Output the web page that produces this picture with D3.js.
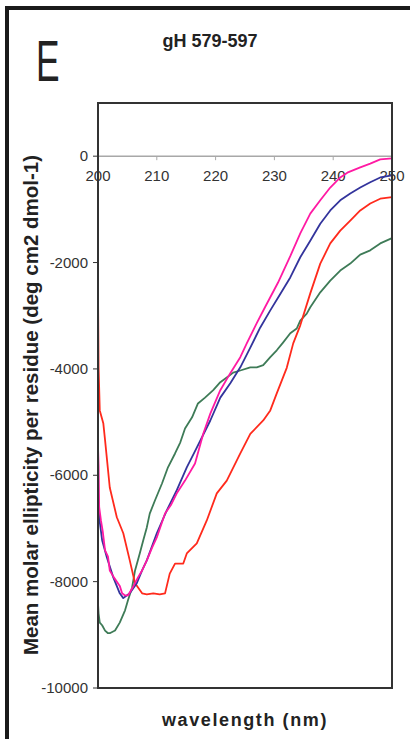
<!DOCTYPE html>
<meta charset='utf-8'>
<style>
    body { margin: 0; background: #fff; }
    text { font-family: Arial, "Liberation Sans", sans-serif; }
    .tick-label { font-size: 15px; fill: #333; }
    .series { fill: none; stroke-width: 1.8; stroke-linejoin: round; }
</style>

<svg width="410" height="739"></svg>
<script src="https://d3js.org/d3.v7.min.js"></script>

<script>

// tick labels
var xTicks = [200, 210, 220, 230, 240, 250];
var yTicks = [0, -2000, -4000, -6000, -8000, -10000];

// series: [wavelength nm, mean molar ellipticity]
var red = [
    [200.0, -2560], [200.1, -3970], [200.3, -4780], [200.9, -5020], [201.2, -5340],
    [202.0, -6230], [203.2, -6790], [204.3, -7090], [205.4, -7600], [206.3, -8030],
    [207.5, -8220], [208.3, -8240], [209.4, -8220], [210.5, -8240], [211.4, -8220],
    [212.2, -7850], [213.1, -7660], [214.5, -7660], [215.1, -7470], [216.8, -7280],
    [218.5, -6850], [220.2, -6340], [221.9, -6100], [224.2, -5590], [225.9, -5220],
    [228.1, -4970], [229.3, -4780], [230.4, -4460], [232.1, -3980], [233.2, -3520],
    [234.4, -3180], [236.1, -2580], [237.8, -2020], [239.5, -1640], [241.2, -1400],
    [242.9, -1210], [244.6, -1020], [246.3, -890], [248.0, -800], [250.0, -770]
];
var blue = [
    [200.0, -6420], [200.2, -6790], [200.7, -7220], [201.5, -7540], [202.6, -7920],
    [203.7, -8220], [204.3, -8310], [205.4, -8220], [206.6, -8030], [207.5, -7790],
    [208.3, -7600], [210.0, -7090], [211.7, -6660], [213.4, -6280], [215.1, -5850],
    [216.8, -5480], [219.1, -4970], [220.8, -4540], [222.5, -4270], [224.2, -3970],
    [225.9, -3600], [227.6, -3220], [229.3, -2900], [231.0, -2590], [232.7, -2280],
    [234.4, -1900], [236.1, -1590], [237.8, -1270], [239.5, -1020], [241.2, -830],
    [242.9, -700], [244.6, -590], [246.3, -490], [248.0, -400], [250.0, -360]
];
var magenta = [
    [200.0, -5460], [200.1, -5820], [200.2, -6600], [200.5, -6850], [200.8, -7050],
    [201.2, -7410], [201.7, -7530], [202.0, -7790], [202.7, -7920], [203.7, -8080],
    [204.1, -8220], [204.6, -8260], [205.1, -8260], [205.8, -8130], [206.8, -7920],
    [207.5, -7790], [208.3, -7600], [209.2, -7360], [210.0, -7170], [211.4, -6720],
    [212.4, -6560], [213.4, -6340], [214.8, -6100], [216.5, -5780], [217.9, -5220],
    [219.1, -4840], [220.8, -4400], [222.5, -4080], [224.2, -3780], [225.3, -3520],
    [227.0, -3140], [228.4, -2840], [230.6, -2380], [232.7, -1880], [234.4, -1450],
    [236.1, -1080], [237.8, -830], [239.5, -590], [241.2, -400],
    [242.4, -310], [244.6, -210], [246.3, -140], [248.0, -60], [250.0, -40]
];
var green = [
    [200.0, -8410], [200.1, -8600], [200.3, -8770], [200.7, -8820], [201.2, -8920],
    [201.7, -8970], [202.0, -8970], [202.9, -8920], [203.7, -8770], [204.6, -8540],
    [205.1, -8350], [205.8, -8110], [206.3, -7790], [207.1, -7470], [207.7, -7220],
    [208.3, -6980], [208.8, -6720], [209.7, -6470], [210.9, -6150], [211.9, -5850],
    [213.1, -5590], [214.0, -5380], [214.8, -5120], [216.0, -4910], [217.0, -4650],
    [218.2, -4540], [219.6, -4400], [220.8, -4250], [221.9, -4160], [223.0, -4070],
    [224.2, -4030], [225.9, -3970], [227.0, -3970], [228.1, -3930], [229.3, -3780],
    [230.4, -3650], [231.5, -3500], [232.7, -3330], [233.8, -3240], [234.4, -3090],
    [235.5, -2960], [236.1, -2840], [237.8, -2560], [239.5, -2340], [241.2, -2150],
    [242.9, -2020], [244.6, -1850], [246.3, -1770], [248.0, -1640], [250.0, -1540]
];

var seriesList = [
    { values: green, color: '#3e7b57' },
    { values: red, color: '#ff2a1c' },
    { values: blue, color: '#33349c' },
    { values: magenta, color: '#ff1aa3' }
];

var svg = d3.select('svg');

var plotLeft = 98, plotRight = 392, plotTop = 103, plotBottom = 688;

var x = d3.scaleLinear().domain([200, 250]).range([plotLeft, plotRight]);
var y = d3.scaleLinear().domain([-10000, 1000]).range([plotBottom, plotTop]);

// outer panel frame (right and bottom sides fall outside the picture)
svg.append('rect')
    .attr('x', 7).attr('y', 8)
    .attr('width', 440).attr('height', 800)
    .attr('fill', 'none')
    .attr('stroke', '#1a1a1a')
    .attr('stroke-width', 4);

// panel letter
svg.append('text')
    .attr('transform', 'translate(36,81) scale(0.62,1)')
    .attr('font-size', 57)
    .attr('fill', '#222')
    .text('E');

svg.append('text')
    .attr('x', 210).attr('y', 47)
    .attr('text-anchor', 'middle')
    .attr('font-size', 18)
    .attr('font-weight', 'bold')
    .attr('fill', '#222')
    .text('gH 579-597');

// zero line with tick marks and labels
svg.append('line')
    .attr('x1', plotLeft).attr('x2', plotRight)
    .attr('y1', y(0)).attr('y2', y(0))
    .attr('stroke', '#a8a8a8')
    .attr('stroke-width', 1.5);

svg.selectAll('.xtick')
    .data(xTicks)
    .enter().append('line')
    .attr('class', 'xtick')
    .attr('x1', d => x(d)).attr('x2', d => x(d))
    .attr('y1', y(0)).attr('y2', y(0) + 4)
    .attr('stroke', '#a8a8a8');

svg.selectAll('.xlabel')
    .data(xTicks)
    .enter().append('text')
    .attr('class', 'tick-label')
    .attr('x', d => x(d))
    .attr('y', y(0) + 25)
    .attr('text-anchor', 'middle')
    .text(d => d);

// y ticks
svg.selectAll('.ytick')
    .data(yTicks)
    .enter().append('line')
    .attr('x1', plotLeft - 5).attr('x2', plotLeft)
    .attr('y1', d => y(d)).attr('y2', d => y(d))
    .attr('stroke', '#333');

svg.selectAll('.ylabel')
    .data(yTicks)
    .enter().append('text')
    .attr('class', 'tick-label')
    .attr('x', plotLeft - 10)
    .attr('y', d => y(d) + 5)
    .attr('text-anchor', 'end')
    .text(d => d);

// curves
var line = d3.line()
    .x(d => x(d[0]))
    .y(d => y(d[1]));

svg.selectAll('.series')
    .data(seriesList)
    .enter().append('path')
    .attr('class', 'series')
    .attr('stroke', d => d.color)
    .attr('d', d => line(d.values));

// plot frame
svg.append('rect')
    .attr('x', plotLeft).attr('y', plotTop)
    .attr('width', plotRight - plotLeft)
    .attr('height', plotBottom - plotTop)
    .attr('fill', 'none')
    .attr('stroke', '#333')
    .attr('stroke-width', 2);

// axis titles
svg.append('text')
    .attr('transform', 'translate(38,405) rotate(-90)')
    .attr('text-anchor', 'middle')
    .attr('font-size', 20.5)
    .attr('font-weight', 'bold')
    .attr('fill', '#222')
    .text('Mean molar ellipticity per residue (deg cm2 dmol-1)');

svg.append('text')
    .attr('x', 245).attr('y', 726)
    .attr('text-anchor', 'middle')
    .attr('font-size', 18)
    .attr('font-weight', 'bold')
    .attr('letter-spacing', 1.6)
    .attr('fill', '#222')
    .text('wavelength (nm)');

</script>
